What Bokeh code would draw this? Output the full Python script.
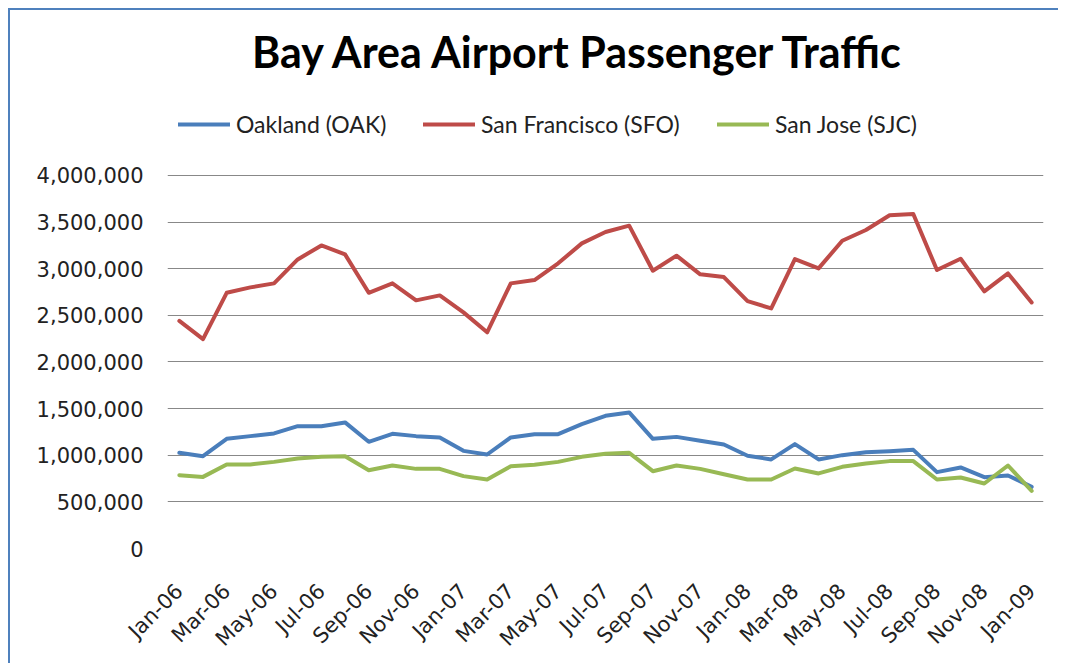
from bokeh.plotting import figure
from bokeh.models import (Range1d, FixedTicker, NumeralTickFormatter,
                          Label, Legend, LegendItem)
from bokeh.embed import file_html
from bokeh.resources import INLINE
from math import pi

TITLE = "Bay Area Airport Passenger Traffic"

months = ["Jan-06", "Feb-06", "Mar-06", "Apr-06", "May-06", "Jun-06", "Jul-06", "Aug-06",
          "Sep-06", "Oct-06", "Nov-06", "Dec-06",
          "Jan-07", "Feb-07", "Mar-07", "Apr-07", "May-07", "Jun-07", "Jul-07", "Aug-07",
          "Sep-07", "Oct-07", "Nov-07", "Dec-07",
          "Jan-08", "Feb-08", "Mar-08", "Apr-08", "May-08", "Jun-08", "Jul-08", "Aug-08",
          "Sep-08", "Oct-08", "Nov-08", "Dec-08",
          "Jan-09"]

series_names = ["Oakland (OAK)", "San Francisco (SFO)", "San Jose (SJC)"]

oak = [1026000, 990000, 1176000, 1205000, 1234000, 1312000, 1312000, 1352000,
       1144000, 1230000, 1205000, 1191000,
       1047000, 1008000, 1191000, 1226000, 1226000, 1334000, 1423000, 1459000,
       1176000, 1197000, 1155000, 1116000,
       994000, 955000, 1119000, 955000, 1001000, 1033000, 1044000, 1058000,
       819000, 869000, 765000, 783000,
       661000]

sfo = [2440000, 2246000, 2742000, 2800000, 2843000, 3100000, 3250000, 3154000,
       2742000, 2843000, 2661000, 2714000,
       2532000, 2318000, 2843000, 2879000, 3058000, 3272000, 3394000, 3462000,
       2979000, 3140000, 2940000, 2911000,
       2653000, 2575000, 3104000, 3004000, 3300000, 3415000, 3573000, 3587000,
       2986000, 3107000, 2757000, 2950000,
       2639000]

sjc = [786000, 768000, 901000, 901000, 929000, 966000, 983000, 990000,
       840000, 890000, 854000, 854000,
       776000, 740000, 883000, 897000, 929000, 983000, 1015000, 1026000,
       829000, 890000, 854000, 797000,
       740000, 740000, 858000, 805000, 876000, 912000, 937000, 937000,
       740000, 762000, 697000, 890000,
       618000]

y_ticks = [0, 500000, 1000000, 1500000, 2000000, 2500000, 3000000, 3500000, 4000000]

colors = ["#4A7EBB", "#BE4B48", "#98B954"]

x = list(range(len(months)))
x_ticks = x[::2]

p = figure(width=1050, height=655, output_backend="svg", toolbar_location=None,
           x_range=Range1d(-0.5, len(months) - 0.5),
           y_range=Range1d(0, 5662000),
           min_border_left=157, min_border_right=17,
           min_border_top=10, min_border_bottom=117)
p.styles = {"border-left": "2px solid #4F81BD", "border-top": "2px solid #4F81BD",
            "margin-left": "8px", "margin-top": "8px"}
p.outline_line_color = None
p.background_fill_color = "white"
p.border_fill_color = "white"

renderers = []
for vals, col in zip([oak, sfo, sjc], colors):
    r = p.line(x, vals, line_color=col, line_width=4, line_join="round",
               line_cap="round")
    renderers.append(r)

# axes
p.yaxis.ticker = FixedTicker(ticks=y_ticks)
p.yaxis.formatter = NumeralTickFormatter(format="0,0")
p.yaxis.axis_line_color = None
p.yaxis.major_tick_line_color = None
p.yaxis.minor_tick_line_color = None
p.yaxis.major_label_standoff = 18
p.yaxis.major_label_text_font = "DejaVu Sans"
p.yaxis.major_label_text_font_size = "21px"
p.yaxis.major_label_text_color = "#222222"

p.xaxis.ticker = FixedTicker(ticks=x_ticks)
p.xaxis.major_label_overrides = {i: months[i] for i in x_ticks}
p.xaxis.axis_line_color = None
p.xaxis.major_tick_line_color = None
p.xaxis.minor_tick_line_color = None
p.xaxis.major_label_orientation = pi / 4
p.xaxis.major_label_standoff = 33
p.xaxis.major_label_text_font = "DejaVu Sans"
p.xaxis.major_label_text_font_size = "21px"
p.xaxis.major_label_text_color = "#222222"

p.xgrid.grid_line_color = None
p.ygrid.ticker = FixedTicker(ticks=y_ticks)
p.ygrid.grid_line_color = "#888888"
p.ygrid.grid_line_width = 1.2

# title (frame-relative screen units)
p.add_layout(Label(x=412, y=497, x_units="screen", y_units="screen", text=TITLE,
                   text_align="center", text_baseline="middle",
                   text_font="Lato", text_font_style="bold", text_font_size="43px",
                   text_color="black"))

# legend: one entry per legend box
legend_x = [11, 256, 550]
for name, r, lx in zip(series_names, renderers, legend_x):
    lg = Legend(items=[LegendItem(label=name, renderers=[r])],
                location=(lx, 410), orientation="horizontal",
                padding=0, margin=0, border_line_color=None,
                background_fill_alpha=0, glyph_width=52, glyph_height=20,
                label_height=20, label_standoff=6,
                label_text_font="Lato", label_text_font_size="23px",
                label_text_color="#222222")
    p.add_layout(lg)

open("out.html", "w").write(file_html(p, INLINE))
